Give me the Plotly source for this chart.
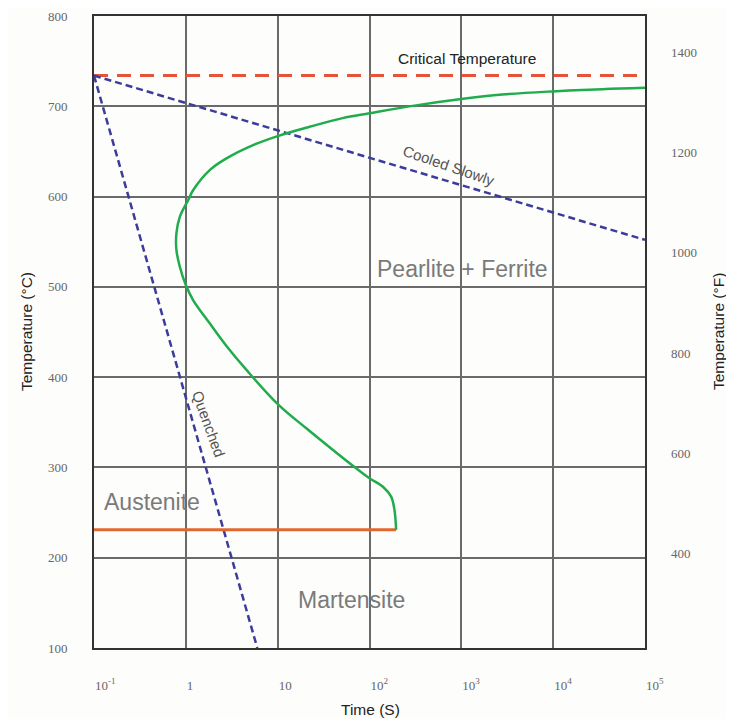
import math
import plotly.graph_objects as go

# ---- data ----
critical_temp_c = 734
critical_time = [0.1, 1e5]

slow_time = [0.1, 1e5]
slow_temp = [734, 552]

quench_time = [0.1, 6.0]
quench_temp = [734, 100]

ms_time = [0.1, 195]
ms_temp = [231, 231]

curve_time = [195, 187, 172, 140, 100, 71.6, 40, 20.5, 10.3, 4.57, 2.77, 1.82, 1.2, 1.0, 0.86,
              0.79, 0.79, 0.86, 1.06, 1.2, 1.82, 2.77, 5.4, 10, 22.3, 51, 100, 322, 1000, 2790,
              9750, 34100, 100000]
curve_temp = [231, 253, 267.6, 278.6, 288, 299, 319.3, 343.3, 369, 408, 434.5, 459.6, 485.4, 502, 522.3,
              540.8, 559.6, 577.6, 596, 607, 629.3, 642.3, 657, 667, 677.3, 686.9, 692.2, 701, 708, 713,
              716.5, 719, 720.5]

x_tickvals = [0.1, 1, 10, 100, 1000, 10000, 100000]
x_ticktext = ["10<sup>-1</sup>", "1", "10", "10<sup>2</sup>", "10<sup>3</sup>", "10<sup>4</sup>", "10<sup>5</sup>"]
yc_ticks = [100, 200, 300, 400, 500, 600, 700, 800]
yf_ticks = [400, 600, 800, 1000, 1200, 1400]

y_range_c = [100, 800]
y_range_f = [c * 1.8 + 32 for c in y_range_c]

fig = go.Figure()

fig.add_trace(go.Scatter(x=critical_time, y=[critical_temp_c] * 2, mode="lines",
                         line=dict(color="#e5533b", width=3, dash="14px,9px"), hoverinfo="skip"))
fig.add_trace(go.Scatter(x=slow_time, y=slow_temp, mode="lines",
                         line=dict(color="#3c3c9c", width=2.5, dash="7px,4px"), hoverinfo="skip"))
fig.add_trace(go.Scatter(x=quench_time, y=quench_temp, mode="lines",
                         line=dict(color="#3c3c9c", width=2.5, dash="7px,4px"), hoverinfo="skip"))
fig.add_trace(go.Scatter(x=ms_time, y=ms_temp, mode="lines",
                         line=dict(color="#e2672f", width=3), hoverinfo="skip"))
fig.add_trace(go.Scatter(x=curve_time, y=curve_temp, mode="lines",
                         line=dict(color="#1fac4c", width=2.5, shape="spline", smoothing=1.0),
                         hoverinfo="skip"))
# invisible trace for secondary axis
fig.add_trace(go.Scatter(x=[0.1], y=[y_range_f[0]], yaxis="y2", mode="markers",
                         marker=dict(opacity=0), hoverinfo="skip"))

serif = "Liberation Serif, DejaVu Serif, serif"
sans = "Liberation Sans, Arial, sans-serif"
tickfont = dict(family=serif, size=13, color="#666666")

fig.update_layout(
    width=718, height=711,
    margin=dict(l=86, r=81, t=8, b=71, autoexpand=False),
    paper_bgcolor="#fdfdfb", plot_bgcolor="#fdfdfb",
    showlegend=False,
    xaxis=dict(type="log", range=[-1, 5], tickvals=x_tickvals, ticktext=x_ticktext,
               showgrid=True, gridcolor="#6a6a6a", gridwidth=1.5, automargin=False,
               showline=True, mirror=True, linecolor="#333333", linewidth=2,
               ticks="", tickfont=tickfont, ticklabelposition="outside right",
               ticklabelstandoff=24, zeroline=False),
    yaxis=dict(range=y_range_c, tickvals=yc_ticks, showgrid=True, gridcolor="#6a6a6a", gridwidth=1.5,
               showline=True, mirror=True, linecolor="#333333", linewidth=2, automargin=False,
               ticks="", tickfont=tickfont, ticklabelstandoff=22, zeroline=False),
    yaxis2=dict(range=y_range_f, tickvals=yf_ticks, overlaying="y", side="right",
                showgrid=False, showline=False, ticks="", zeroline=False, automargin=False,
                tickfont=tickfont, ticklabelstandoff=25),
)

def ann(text, logt, temp, size, color, angle=0, family=sans):
    fig.add_annotation(x=logt, y=temp, xref="x", yref="y", text=text, showarrow=False,
                       xanchor="center", yanchor="middle",
                       textangle=angle, font=dict(family=family, size=size, color=color))

ann("Critical Temperature", 3.06, 753.4, 15.5, "#222222")
ann("Cooled Slowly", 2.864, 634.3, 15, "#555555", angle=19)
ann("Quenched", 0.252, 347.8, 15, "#555555", angle=70)
ann("Pearlite + Ferrite", 3.016, 519.7, 23, "#7a7a7a")
ann("Austenite", -0.37, 262, 23, "#7a7a7a")
ann("Martensite", 1.80, 153, 23, "#7a7a7a")

def paper_ann(text, px, py, angle=0):
    fig.add_annotation(x=(px - 94) / 551, y=(648 - py) / 632, xref="paper", yref="paper",
                       xanchor="center", yanchor="middle",
                       text=text, showarrow=False, textangle=angle,
                       font=dict(family=sans, size=15.5, color="#222222"))

paper_ann("Temperature (°C)", 26, 332, -90)
paper_ann("Temperature (°F)", 718, 332, -90)
paper_ann("Time (S)", 370, 709)

fig.write_html("out.html")
